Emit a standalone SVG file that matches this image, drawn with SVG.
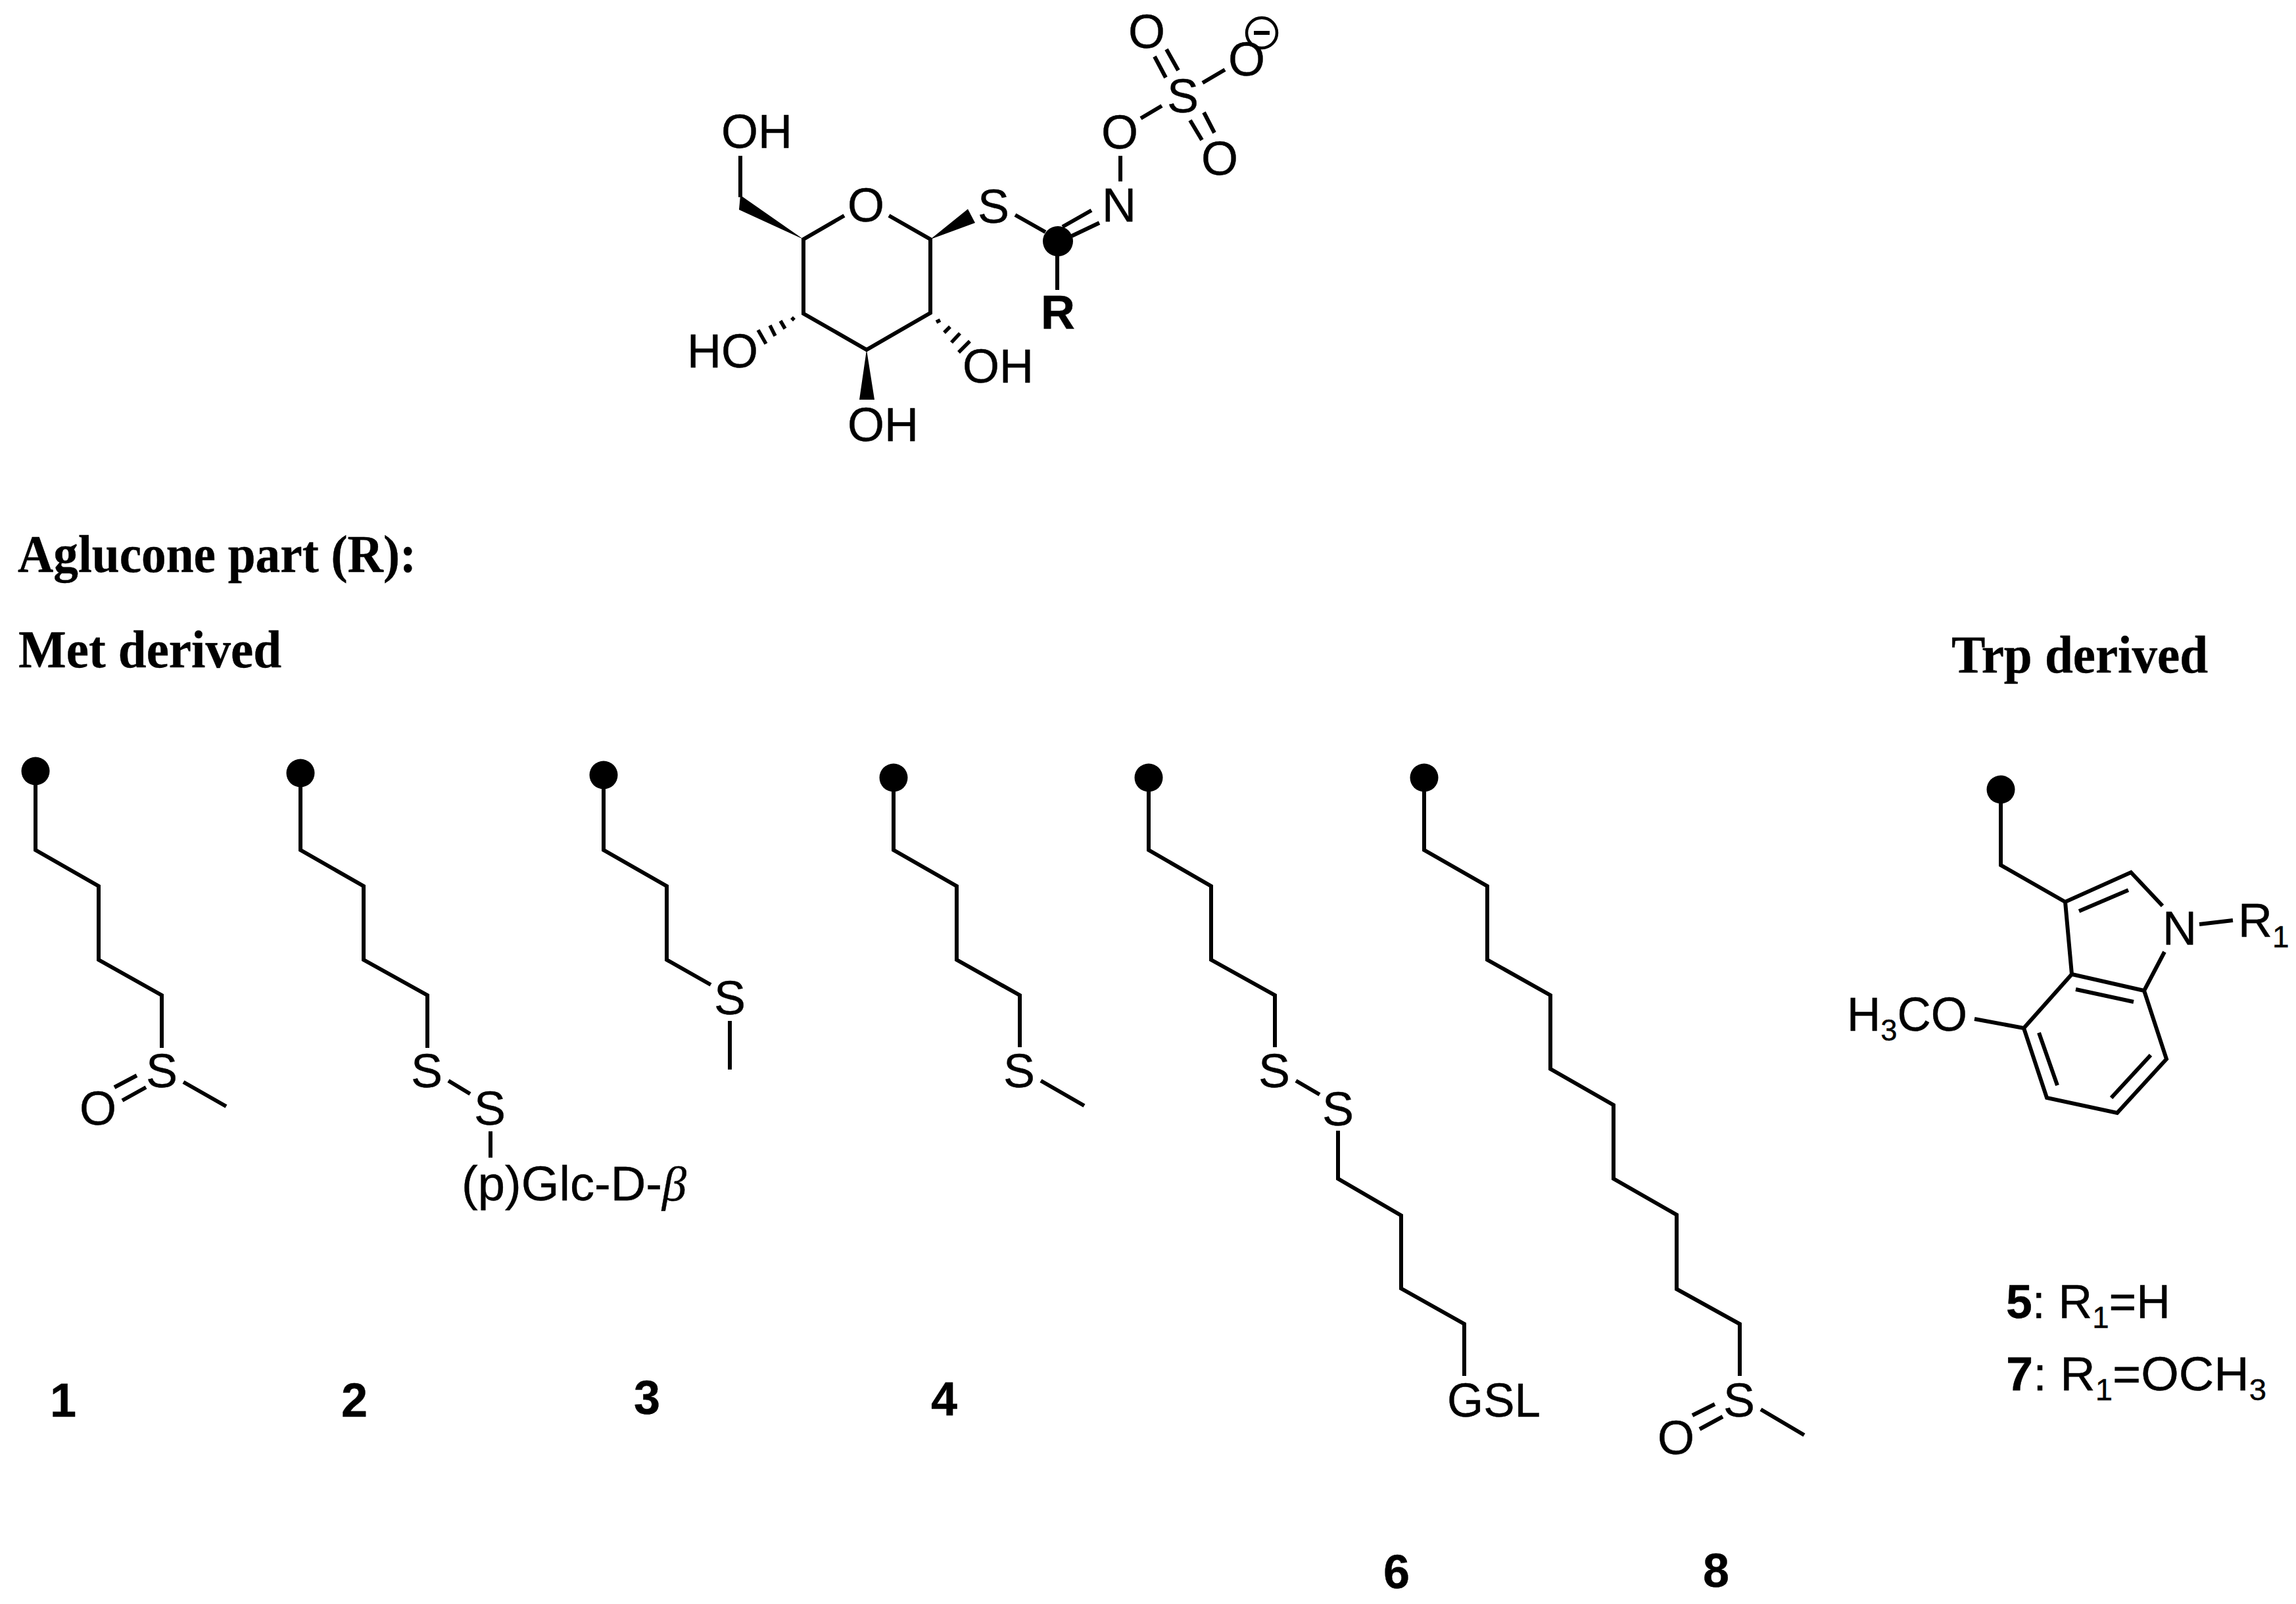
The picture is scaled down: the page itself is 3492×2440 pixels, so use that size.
<svg xmlns="http://www.w3.org/2000/svg" width="3492" height="2440" viewBox="0 0 3492 2440">
<style>
text{font-family:"Liberation Sans",Arial,sans-serif;font-size:72px;fill:#000;stroke:#000;stroke-width:.4}
.m{text-anchor:middle}
.b{font-weight:bold}
.h{font-family:"Liberation Serif","Times New Roman",serif;font-weight:bold;font-size:80px}
.s{font-size:46px}
.k{fill:none;stroke:#000;stroke-width:6;stroke-linejoin:miter;stroke-linecap:butt}
.h4{stroke:#000;stroke-width:5.5;fill:none}
</style>
<rect width="3492" height="2440" fill="#fff"/>
<g id="glucosinolate-core">
<path class="k" d="M1284 328L1222 364V477L1318 532L1415 476V364L1352 328M1126 237V300M1544 327L1590 353M1616 345L1660 320M1630 359L1672 339M1704 237V276M1735 180L1767 161M1829 126L1863 106M1756 86L1773 118M1774 75L1792 107M1810 183L1828 213M1831 171L1847 202M1608 388V441"/>
<polygon points="1222,364 1126,297 1124,319"/>
<polygon points="1415,364 1472,318 1483,339"/>
<polygon points="1318,532 1307,608 1330,608"/>
<path class="h4" d="M1204 483L1208 487M1187 488L1194 500M1171 495L1179 511M1153 502L1165 523M1424 490L1430 487M1436 506L1445 497M1447 521L1460 507M1458 536L1475 519"/>
<circle cx="1609" cy="367" r="23"/>
<circle cx="1919" cy="50" r="23" fill="none" stroke="#000" stroke-width="4.5"/>
<path class="k" d="M1907 50H1931"/>
<text class="m" x="1151" y="225">OH</text>
<text class="m" x="1317" y="337">O</text>
<text class="m" x="1511" y="339">S</text>
<text class="m" x="1702" y="337">N</text>
<text class="m" x="1703" y="226">O</text>
<text class="m" x="1799" y="171">S</text>
<text class="m" x="1896" y="115">O</text>
<text class="m" x="1744" y="73">O</text>
<text class="m" x="1855" y="266">O</text>
<text class="m b" x="1609" y="500">R</text>
<text class="m" x="1099" y="559">HO</text>
<text class="m" x="1518" y="582">OH</text>
<text class="m" x="1343" y="671">OH</text>
</g>
<g id="headings">
<text class="h" x="27" y="870" textLength="606" lengthAdjust="spacingAndGlyphs">Aglucone part (R):</text>
<text class="h" x="28" y="1015" textLength="400" lengthAdjust="spacingAndGlyphs">Met derived</text>
<text class="h" x="2968" y="1023" textLength="390" lengthAdjust="spacingAndGlyphs">Trp derived</text>
</g>
<g id="compound-1">
<circle cx="54" cy="1173" r="21.5"/>
<path class="k" d="M54 1173V1293L150 1348V1460L246 1514V1594M279 1646L344 1683M174 1654L208 1636M186 1674L222 1654"/>
<text class="m" x="246" y="1654">S</text>
<text class="m" x="149" y="1711">O</text>
<text class="m b" x="96" y="2155">1</text>
</g>
<g id="compound-2">
<circle cx="457" cy="1176" r="21.5"/>
<path class="k" d="M457 1176V1293L553 1348V1460L650 1514V1594M682 1644L715 1664M746 1721V1761"/>
<text class="m" x="649" y="1654">S</text>
<text class="m" x="745" y="1711">S</text>
<text x="702" y="1826" style="font-size:74px" textLength="342" lengthAdjust="spacingAndGlyphs">(p)Glc-D-<tspan font-style="italic" font-family="Liberation Serif,serif">β</tspan></text>
<text class="m b" x="539" y="2155">2</text>
</g>
<g id="compound-3">
<circle cx="918" cy="1179" r="21.5"/>
<path class="k" d="M918 1179V1293L1014 1348V1460L1081 1498M1110 1553V1627"/>
<text class="m" x="1110" y="1543">S</text>
<text class="m b" x="984" y="2151">3</text>
</g>
<g id="compound-4">
<circle cx="1359" cy="1183" r="21.5"/>
<path class="k" d="M1359 1183V1293L1455 1348V1460L1551 1514V1593M1583 1644L1649 1682"/>
<text class="m" x="1550" y="1654">S</text>
<text class="m b" x="1436" y="2153">4</text>
</g>
<g id="compound-6">
<circle cx="1747" cy="1183" r="21.5"/>
<path class="k" d="M1747 1183V1293L1842 1348V1460L1939 1514V1593M1971 1644L2007 1665M2035 1720V1793L2131 1849V1960L2227 2014V2093"/>
<text class="m" x="1938" y="1654">S</text>
<text class="m" x="2035" y="1712">S</text>
<text x="2201" y="2155" textLength="142" lengthAdjust="spacingAndGlyphs">GSL</text>
<text class="m b" x="2124" y="2416">6</text>
</g>
<g id="compound-8">
<circle cx="2166" cy="1183" r="21.5"/>
<path class="k" d="M2166 1183V1293L2262 1348V1460L2358 1514V1626L2454 1681V1793L2550 1848V1961L2646 2014V2093M2678 2144L2744 2183M2574 2153L2608 2136M2585 2174L2620 2155"/>
<text class="m" x="2645" y="2155">S</text>
<text class="m" x="2549" y="2212">O</text>
<text class="m b" x="2610" y="2414">8</text>
</g>
<g id="compound-5-7">
<circle cx="3043" cy="1201" r="21.5"/>
<path class="k" d="M3043 1201V1316L3141 1372L3241 1327L3289 1378M3141 1372L3151 1482L3261 1507L3292 1448M3151 1482L3078 1564L3113 1670L3220 1693L3295 1611L3261 1507M3345 1406L3396 1400M3162 1386L3237 1354M3157 1505L3245 1524M3101 1571L3129 1651M3211 1670L3271 1605M3003 1550L3078 1564"/>
<text class="m" x="3315" y="1437">N</text>
<text x="3404" y="1425">R<tspan class="s" dy="16">1</tspan></text>
<text x="2809" y="1568" textLength="183" lengthAdjust="spacingAndGlyphs">H<tspan class="s" dy="15">3</tspan><tspan dy="-15">CO</tspan></text>
<text x="3051" y="2005" textLength="250" lengthAdjust="spacingAndGlyphs"><tspan class="b">5</tspan>: R<tspan class="s" dy="15">1</tspan><tspan dy="-15">=H</tspan></text>
<text x="3051" y="2115" textLength="396" lengthAdjust="spacingAndGlyphs"><tspan class="b">7</tspan>: R<tspan class="s" dy="15">1</tspan><tspan dy="-15">=OCH</tspan><tspan class="s" dy="15">3</tspan></text>
</g>
</svg>
